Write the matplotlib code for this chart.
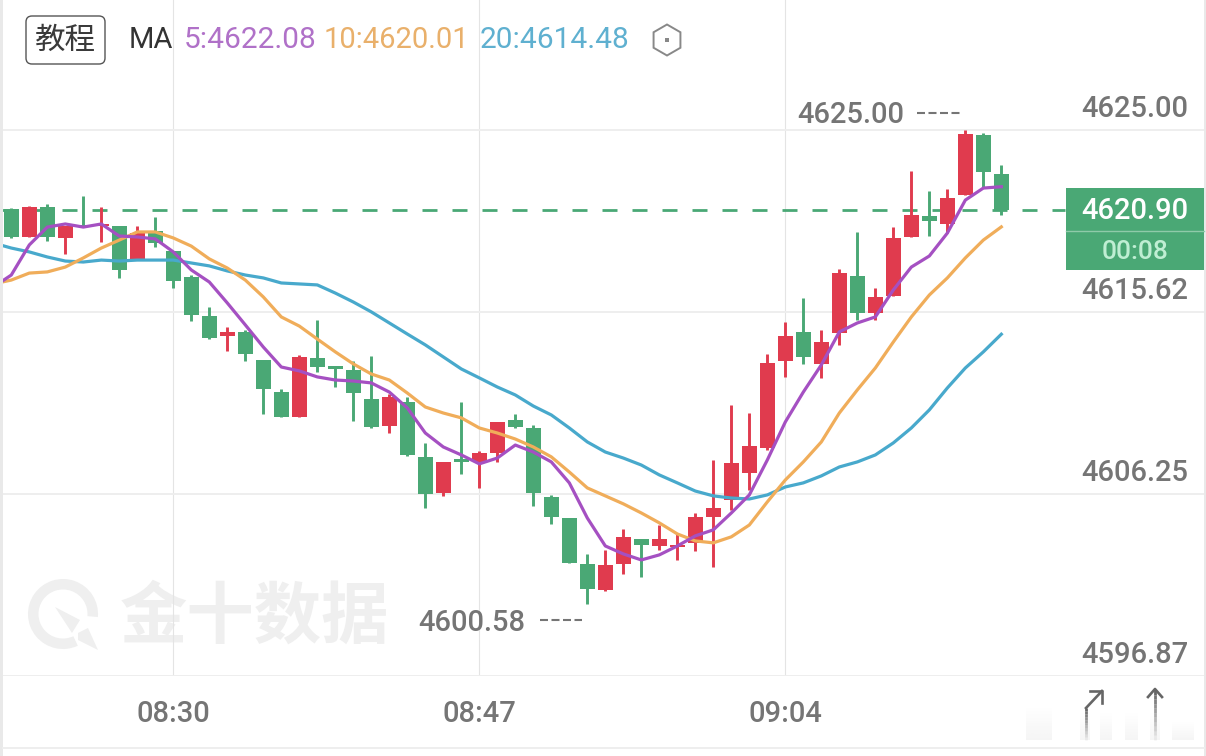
"""Gold 1-minute style candlestick chart with MA5/MA10/MA20 overlays."""

import numpy as np
import matplotlib
matplotlib.use("Agg")
import matplotlib.pyplot as plt
from matplotlib.collections import LineCollection
from matplotlib.patches import FancyBboxPatch, Polygon, Rectangle, RegularPolygon, Wedge

opens = [4620.93, 4619.49, 4621.03, 4619.44, 4620.11, 4620.06, 4620.06, 4618.36,
         4619.80, 4618.77, 4617.43, 4615.42, 4614.39, 4614.59, 4613.15, 4611.50,
         4610.22, 4613.26, 4612.84, 4612.64, 4611.14, 4609.75, 4610.99, 4608.16,
         4606.30, 4608.05, 4607.90, 4608.36, 4610.06, 4609.65, 4606.10, 4605.01,
         4602.64, 4601.31, 4602.64, 4603.93, 4603.57, 4603.52, 4603.73, 4605.07,
         4605.94, 4607.33, 4608.62, 4613.10, 4614.59, 4612.95, 4614.54, 4617.48,
         4615.57, 4616.45, 4619.49, 4620.57, 4620.16, 4621.65, 4624.74, 4622.73]
closes = [4619.49, 4621.03, 4619.49, 4620.06, 4620.06, 4620.16, 4617.79, 4619.69,
          4619.18, 4617.22, 4615.47, 4614.29, 4614.59, 4613.46, 4611.66, 4610.22,
          4613.31, 4612.79, 4612.69, 4611.45, 4609.70, 4611.25, 4608.26, 4606.25,
          4607.90, 4607.90, 4608.36, 4609.96, 4609.70, 4606.30, 4605.07, 4602.70,
          4601.36, 4602.59, 4604.04, 4603.62, 4603.93, 4603.62, 4605.07, 4605.53,
          4607.85, 4608.72, 4613.00, 4614.39, 4613.31, 4614.08, 4617.63, 4615.57,
          4616.40, 4619.44, 4620.62, 4620.31, 4621.50, 4624.79, 4622.84, 4620.90]
highs = [4620.98, 4621.09, 4621.19, 4620.06, 4621.60, 4621.03, 4620.06, 4620.06,
         4620.52, 4618.77, 4617.53, 4615.88, 4614.85, 4614.70, 4613.15, 4611.66,
         4613.41, 4615.21, 4612.84, 4613.10, 4613.36, 4611.40, 4611.25, 4608.88,
         4607.90, 4610.99, 4608.47, 4609.96, 4610.37, 4609.80, 4606.20, 4605.01,
         4603.16, 4603.37, 4604.45, 4603.93, 4604.65, 4604.24, 4605.27, 4608.00,
         4610.83, 4610.42, 4613.46, 4615.11, 4616.35, 4614.70, 4617.84, 4619.75,
         4616.86, 4620.00, 4622.89, 4621.86, 4621.96, 4625.00, 4624.85, 4623.20]
lows = [4619.44, 4619.49, 4619.28, 4618.61, 4620.06, 4619.23, 4617.38, 4618.36,
        4618.97, 4616.86, 4615.16, 4614.23, 4613.62, 4613.10, 4610.37, 4610.22,
        4610.22, 4612.53, 4611.76, 4610.01, 4609.65, 4609.39, 4608.21, 4605.53,
        4606.15, 4607.28, 4606.56, 4607.90, 4609.65, 4605.63, 4604.70, 4602.70,
        4600.58, 4601.25, 4602.13, 4601.97, 4603.37, 4602.85, 4603.31, 4602.49,
        4605.43, 4606.46, 4608.52, 4612.28, 4612.95, 4612.23, 4613.93, 4615.21,
        4615.21, 4616.45, 4619.49, 4619.54, 4619.69, 4621.65, 4622.06, 4620.62]

# the averages start one bar before the first visible candle
ma5 = [4616.91, 4617.53, 4619.08, 4620.00, 4620.16, 4620.00, 4620.16, 4619.54, 4619.49,
       4619.39, 4618.72, 4617.79, 4617.17, 4616.09, 4614.96, 4613.82, 4612.79, 4612.59,
       4612.28, 4612.12, 4612.07, 4611.97, 4611.50, 4610.68, 4609.39, 4608.67, 4608.26,
       4607.80, 4608.10, 4608.77, 4608.41, 4607.90, 4606.82, 4605.01, 4603.57, 4603.16,
       4602.85, 4603.11, 4603.57, 4604.09, 4604.40, 4605.27, 4606.20, 4608.00, 4609.96,
       4611.50, 4612.90, 4614.60, 4615.06, 4615.37, 4616.76, 4617.94, 4618.51, 4619.69,
       4621.39, 4622.01, 4622.08]
ma10 = [4617.07, 4617.27, 4617.63, 4617.69, 4617.94, 4618.41, 4618.92, 4619.33, 4619.75,
        4619.75, 4619.44, 4619.02, 4618.36, 4617.89, 4617.27, 4616.40, 4615.37, 4614.90,
        4614.23, 4613.57, 4612.95, 4612.43, 4612.12, 4611.45, 4610.73, 4610.42, 4610.17,
        4609.65, 4609.39, 4609.08, 4608.67, 4608.16, 4607.38, 4606.56, 4606.15, 4605.74,
        4605.27, 4604.76, 4604.19, 4603.83, 4603.73, 4604.04, 4604.65, 4605.84, 4606.97,
        4607.90, 4608.93, 4610.42, 4611.61, 4612.74, 4614.08, 4615.37, 4616.50, 4617.38,
        4618.41, 4619.33, 4620.01]
ma20 = [4619.18, 4618.92, 4618.72, 4618.46, 4618.25, 4618.20, 4618.30, 4618.25, 4618.30,
        4618.30, 4618.30, 4618.15, 4618.00, 4617.74, 4617.53, 4617.38, 4617.12, 4617.07,
        4617.02, 4616.60, 4616.14, 4615.63, 4615.06, 4614.49, 4613.93, 4613.31, 4612.69,
        4612.23, 4611.76, 4611.35, 4610.78, 4610.32, 4609.65, 4608.93, 4608.41, 4608.10,
        4607.74, 4607.23, 4606.82, 4606.40, 4606.15, 4606.04, 4605.99, 4606.20, 4606.61,
        4606.82, 4607.18, 4607.64, 4607.90, 4608.26, 4608.88, 4609.65, 4610.58, 4611.71,
        4612.74, 4613.57, 4614.48]

price_ticks = [4625.00, 4615.62, 4606.25, 4596.87]
price_labels = ["4625.00", "4615.62", "4606.25", "4596.87"]
time_ticks = [9, 26, 43]
time_labels = ["08:30", "08:47", "09:04"]
last_price = 4620.90
max_idx, max_price = 53, 4625.00
min_idx, min_price = 32, 4600.58

GREEN = "#4aa875"
RED = "#e03b4e"
PURPLE = "#a550c2"
ORANGE = "#f0ad5a"
BLUE = "#48a9cc"
GRID = "#eeeeee"
GRAY = "#757575"
PX = 0.72  # points per pixel at dpi 100

plt.rcParams["font.family"] = ["Roboto", "Noto Sans CJK SC", "DejaVu Sans"]
plt.rcParams["lines.scale_dashes"] = False

fig = plt.figure(figsize=(12.06, 7.56), dpi=100, facecolor="white")

# pixel canvas behind the chart, for the watermark and the furniture
bg = fig.add_axes([0, 0, 1, 1], zorder=0)
bg.set_xlim(0, 1206)
bg.set_ylim(756, 0)
bg.axis("off")

bg.add_patch(Rectangle((0, 0), 3, 756, color="#e9e9e9", lw=0))
bg.add_patch(Rectangle((1204, 0), 2, 756, color="#e9e9e9", lw=0))
bg.plot([3, 1204], [748, 748], color=GRID, lw=1.4)

# watermark
WM = "#efefef"
bg.add_patch(Wedge((63, 614), 35, 65, 365, width=10.5, color=WM, lw=0))
bg.add_patch(Polygon([[55, 607], [80, 620], [72, 633]], color=WM, lw=0))
bg.add_patch(Polygon([[78, 633], [88, 628], [98, 650], [78, 640]], color=WM, lw=0))
bg.text(254, 618, "金十数据", fontsize=48.5, fontweight="bold", color=WM,
        ha="center", va="center", family=["Noto Sans CJK SC"])

# header
bg.add_patch(FancyBboxPatch((31, 21), 69, 38, boxstyle="round,pad=5,rounding_size=6",
                            fc="white", ec="#555555", lw=1))
bg.text(65.5, 40, "教程", fontsize=22, color="#3a3a3a", ha="center", va="center",
        family=["Noto Sans CJK SC"])
bg.text(129, 40, "MA", fontsize=21, color="#333333", va="center")
bg.text(184, 40, "5:4622.08", fontsize=21.5, color="#b071c8", va="center")
bg.text(324, 40, "10:4620.01", fontsize=21, color="#e9b06b", va="center")
bg.text(480, 40, "20:4614.48", fontsize=21.5, color="#5fb0d0", va="center")
bg.add_patch(RegularPolygon((667, 40), 6, radius=15.5, fc="none", ec="#888888", lw=1.4))
bg.add_patch(Rectangle((665, 38), 4, 4, color="#888888", lw=0))

# last price tag
bg.add_patch(Rectangle((1066, 188), 138, 82, color=GREEN, lw=0))
bg.plot([1066, 1204], [231, 231], color="#8fcaa9", lw=1)
bg.text(1135, 211, "4620.90", fontsize=21, color="white", ha="center", va="center",
        fontweight="medium")
bg.text(1135, 252, "00:08", fontsize=19, color="#bfeed3", ha="center", va="center",
        fontweight="medium")

# blurred bits and arrows at the bottom right
blur = np.linspace(0, 1, 32).reshape(-1, 1)
for x0, x1, y0 in [(1026, 1052, 706), (1080, 1090, 712), (1100, 1112, 712),
                   (1125, 1138, 712), (1150, 1160, 712), (1172, 1194, 722)]:
    bg.imshow(blur, cmap="Greys", vmin=0, vmax=12, extent=(x0, x1, 740, y0), aspect="auto",
              zorder=1)
bg.set_xlim(0, 1206)
bg.set_ylim(756, 0)
for x_stem, y_top in [(1086, 708), (1155, 690)]:
    ys = np.linspace(y_top, 740, 12)
    segs = [[(x_stem, a), (x_stem, b)] for a, b in zip(ys[:-1], ys[1:])]
    bg.add_collection(LineCollection(segs, colors=[(0.4, 0.4, 0.4, 1 - k / 11) for k in range(11)],
                                     linewidths=2, zorder=2))
bg.plot([1086, 1102], [708, 691], color="#666666", lw=1.9, zorder=2)
bg.plot([1090, 1102, 1102], [691, 691, 703], color="#666666", lw=1.9, zorder=2)
bg.plot([1148, 1155, 1162], [697, 689, 697], color="#666666", lw=1.9, zorder=2)

# dashes beside the high / low callouts
bg.plot([917, 960], [113, 113], color=GRAY, lw=1.5, linestyle=(0, (8 * PX, 3.5 * PX)),
        dash_capstyle="butt")
bg.plot([540, 582], [620, 620], color=GRAY, lw=1.5, linestyle=(0, (8 * PX, 3.5 * PX)),
        dash_capstyle="butt")

# chart axes: one bar is 18 px wide, one price unit 19.413 px high
ax = fig.add_axes([3 / 1206, (756 - 676) / 756, 1201 / 1206, 676 / 756], zorder=1)
ax.patch.set_alpha(0)
ax.set_xlim(-0.461, 66.259)
ax.set_ylim(4596.87, 4631.70)
for side in ax.spines.values():
    side.set_visible(False)

ax.set_yticks(price_ticks)
ax.set_xticks(time_ticks)
ax.set_xticklabels(time_labels, fontsize=21, color=GRAY, fontweight="medium")
ax.tick_params(axis="both", length=0, labelleft=False)
ax.tick_params(axis="x", pad=24 * PX)
ax.grid(axis="y", color=GRID, lw=1.4)
ax.grid(axis="x", color="#e4e4e4", lw=0.8)
ax.set_axisbelow(True)

for value, label in zip(price_ticks, price_labels):
    ax.annotate(label, xy=(1, value), xycoords=ax.get_yaxis_transform(),
                xytext=(-16 * PX, 21 * PX), textcoords="offset points", fontsize=21,
                color=GRAY, ha="right", va="center", fontweight="medium",
                annotation_clip=False)

# dashed last price line ends at the tag
ax.plot([-0.5, 58.55], [last_price, last_price], color=GREEN, lw=2,
        linestyle=(0, (15 * PX, 15 * PX)), dash_capstyle="butt", zorder=2)

idx = np.arange(len(opens))
opens_a, closes_a = np.array(opens), np.array(closes)
colors = [RED if c > o else GREEN for o, c in zip(opens_a, closes_a)]
ax.vlines(idx, lows, highs, colors=colors, lw=2.1, zorder=3)
ax.bar(idx, np.abs(closes_a - opens_a), bottom=np.minimum(opens_a, closes_a), width=0.83,
       color=colors, linewidth=0, zorder=3)

ma_idx = np.arange(-1, len(opens))
ax.plot(ma_idx, ma20, color=BLUE, lw=2.3, zorder=4)
ax.plot(ma_idx, ma10, color=ORANGE, lw=2.3, zorder=5)
ax.plot(ma_idx, ma5, color=PURPLE, lw=2.3, zorder=6)

# high / low callouts
ax.annotate("%.2f" % max_price, xy=(max_idx, max_price), xytext=(-61 * PX, 15 * PX),
            textcoords="offset points", fontsize=21, color=GRAY, ha="right", va="center",
            fontweight="medium")
ax.annotate("%.2f" % min_price, xy=(min_idx, min_price), xytext=(-62 * PX, -19 * PX),
            textcoords="offset points", fontsize=21, color=GRAY, ha="right", va="center",
            fontweight="medium")

fig.savefig("out.png", dpi=100)
